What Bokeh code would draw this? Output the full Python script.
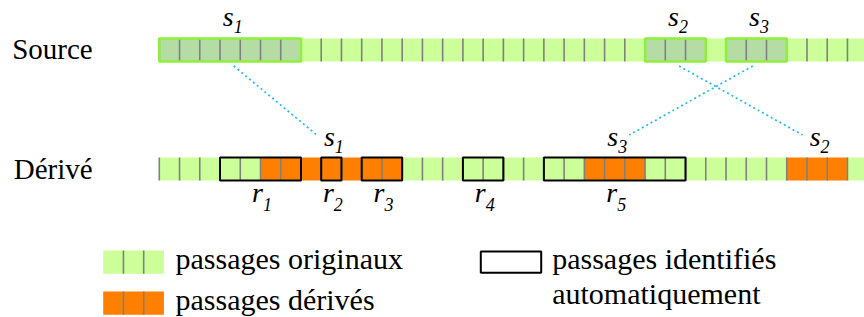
from bokeh.plotting import figure
from bokeh.models import Range1d
from bokeh.core.properties import value
from bokeh.embed import file_html
from bokeh.resources import INLINE

# ---------------- data ----------------
N_CELLS = 35
derived_orange = [5, 6, 7, 8, 9, 10, 11, 21, 22, 23, 31, 32, 33]

source_box_start = [0, 24, 28]
source_box_end = [7, 27, 31]
source_box_labels = ["1", "2", "3"]

derived_box_start = [3, 8, 10, 15, 19]
derived_box_end = [7, 9, 12, 17, 26]
derived_box_labels = ["1", "2", "3", "4", "5"]

# where each source passage re-appears in the derived text
copy_labels = ["1", "2", "3"]
copy_start = [8, 31, 21]
copy_end = [9, 34, 24]

row_names = ["Source", "Dérivé"]
legend_texts = ["passages originaux", "passages dérivés",
                "passages identifiés", "automatiquement"]

# ---------------- style / layout ----------------
LIGHT_GREEN = "#ccff99"
SRC_SEL = "#b5dca5"
SRC_BORDER = "#8fef3c"
ORANGE = "#ff8000"
TICK = "#808080"
LINK = "#1cbcf2"
FONT_NAME = "Liberation Serif"

X0_PX, CW = 158.8, 20.24          # page px of cell boundary 0, cell width px
def X(px):
    return (px - X0_PX) / CW

def B(baseline_px, size):
    # text anchor so that the glyph baseline lands on baseline_px
    return baseline_px - 0.36 * size

SRC_TOP, SRC_BOT = 38, 61
DER_TOP, DER_BOT = 157, 180

p = figure(width=864, height=317, output_backend="svg", toolbar_location=None,
           x_range=Range1d(X(0), X(864)), y_range=Range1d(317, 0),
           min_border=0)
p.axis.visible = False
p.grid.visible = False
p.outline_line_color = None

cells = list(range(N_CELLS))

src_sel = set()
for a, b in zip(source_box_start, source_box_end):
    src_sel.update(range(a, b))
src_colors = [SRC_SEL if c in src_sel else LIGHT_GREEN for c in cells]
p.quad(left=cells, right=[c + 1 for c in cells], top=SRC_TOP, bottom=SRC_BOT,
       fill_color=src_colors, line_color=None)

der_colors = [ORANGE if c in derived_orange else LIGHT_GREEN for c in cells]
p.quad(left=cells, right=[c + 1 for c in cells], top=DER_TOP, bottom=DER_BOT,
       fill_color=der_colors, line_color=None)

bounds = list(range(N_CELLS + 1))
p.segment(x0=bounds, x1=bounds, y0=SRC_TOP, y1=SRC_BOT, line_color=TICK, line_width=1.6)
p.segment(x0=bounds, x1=bounds, y0=DER_TOP, y1=DER_BOT, line_color=TICK, line_width=1.6)

p.quad(left=source_box_start, right=source_box_end, top=SRC_TOP, bottom=SRC_BOT,
       fill_color=None, line_color=SRC_BORDER, line_width=2.5)
p.quad(left=derived_box_start, right=derived_box_end, top=DER_TOP, bottom=DER_BOT,
       fill_color=None, line_color="black", line_width=2)

src_c = [(a + b) / 2 for a, b in zip(source_box_start, source_box_end)]
der_c = [(a + b) / 2 for a, b in zip(copy_start, copy_end)]
dirs = [1 if d > s else -1 for s, d in zip(src_c, der_c)]
p.segment(x0=[s + 0.18 * k for s, k in zip(src_c, dirs)], y0=65.5,
          x1=[d - 0.72 * k for d, k in zip(der_c, dirs)], y1=134.5,
          line_color=LINK, line_width=1.7, line_dash="2 3")

p.text(x=[X(11.7), X(13.3)], y=[B(59.3, 29), B(179.3, 29)], text=row_names,
       text_font=value(FONT_NAME), text_font_size="29px",
       text_baseline="alphabetic")

def sub_label(xs, base_y, sub_y, letter, subs, xoff):
    p.text(x=xs, y=B(base_y, 28), text=[letter] * len(xs), text_font=value(FONT_NAME),
           text_font_style="italic", text_font_size="28px", text_align="right",
           text_baseline="alphabetic", x_offset=xoff)
    p.text(x=xs, y=B(sub_y, 18), text=subs, text_font=value(FONT_NAME),
           text_font_style="italic", text_font_size="18px",
           text_baseline="alphabetic", x_offset=xoff)

sub_label(src_c, 26, 32, "s", source_box_labels, 3.5)
sub_label(der_c, 146, 152, "s", copy_labels, 3.5)
der_box_c = [(a + b) / 2 for a, b in zip(derived_box_start, derived_box_end)]
sub_label(der_box_c, 202, 210, "r", derived_box_labels, 2.5)

sw_left = X(102.7)
sw_cells = [sw_left + i for i in range(3)]
p.quad(left=sw_cells, right=[c + 1 for c in sw_cells], top=250, bottom=273.3,
       fill_color=LIGHT_GREEN, line_color=None)
p.quad(left=sw_cells, right=[c + 1 for c in sw_cells], top=291, bottom=314.3,
       fill_color=ORANGE, line_color=None)
inner = sw_cells[1:]
p.segment(x0=inner, x1=inner, y0=250, y1=273.3, line_color=TICK, line_width=1.6)
p.segment(x0=inner, x1=inner, y0=291, y1=314.3, line_color=TICK, line_width=1.6)
p.quad(left=[X(480.3)], right=[X(540.7)], top=251, bottom=272.3,
       fill_color=None, line_color="black", line_width=2)

p.text(x=[X(175), X(175), X(551.7), X(551.7)],
       y=[B(268.3, 30), B(310, 30), B(268.3, 30), B(303.3, 30)],
       text=legend_texts, text_font=value(FONT_NAME), text_font_size="30px",
       text_baseline="alphabetic")

open("out.html", "w").write(file_html(p, INLINE))
